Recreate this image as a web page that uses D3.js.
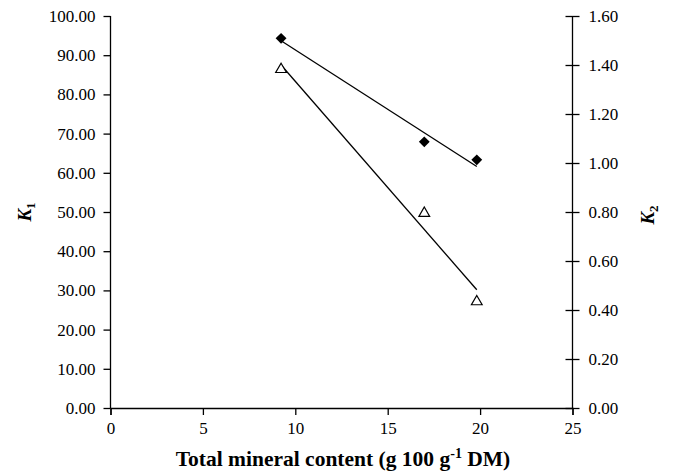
<!DOCTYPE html>
<html><head><meta charset="utf-8">
<script src="https://cdn.jsdelivr.net/npm/d3@7"></script>
<style>body{margin:0;background:#fff}svg{display:block}text{font-family:"Liberation Serif","Times New Roman",serif;fill:#000}</style>
</head><body><svg id="c" width="674" height="475"></svg>
<script>
const mineral = [9.23, 16.98, 19.82];
const k1 = [94.3, 67.9, 63.3];
const k2 = [1.382, 0.795, 0.434];
const xTicks = [0, 5, 10, 15, 20, 25];
const k1Ticks = [0,10,20,30,40,50,60,70,80,90,100];
const k2Ticks = [0,0.2,0.4,0.6,0.8,1.0,1.2,1.4,1.6];

const svg = d3.select("#c");
const L = 110.5, R = 572.5, T = 16, B = 408;
const x = d3.scaleLinear().domain([0,25]).range([L,R]);
const y1 = d3.scaleLinear().domain([0,100]).range([B,T]);
const y2 = d3.scaleLinear().domain([0,1.6]).range([B,T]);

const fs = "17px";
const gl = svg.append("g").attr("transform",`translate(${L},0)`)
  .call(d3.axisLeft(y1).tickValues(k1Ticks).tickFormat(d3.format(".2f")).tickSizeOuter(0).tickSize(7).tickPadding(8));
const gr = svg.append("g").attr("transform",`translate(${R},0)`)
  .call(d3.axisRight(y2).tickValues(k2Ticks).tickFormat(d3.format(".2f")).tickSizeOuter(0).tickSize(7).tickPadding(9));
gr.selectAll(".tick line").attr("x1",-7);
const gb = svg.append("g").attr("transform",`translate(0,${B})`)
  .call(d3.axisBottom(x).tickValues(xTicks).tickFormat(d3.format("d")).tickSizeOuter(0).tickSize(7).tickPadding(7));
[gl,gr,gb].forEach(g=>{
  g.attr("font-family",null);
  g.selectAll("text").style("font-size",fs).style("font-family",'"Liberation Serif","Times New Roman",serif').attr("fill","#000");
  g.selectAll("line,path").attr("stroke","#000").attr("stroke-width",1.3);
});
gl.select(".domain").attr("d",`M0,${T}V${B}`);
gr.select(".domain").attr("d",`M0,${T}V${B}`);

function fit(xs, ys){
  const mx=d3.mean(xs), my=d3.mean(ys);
  let sxy=0,sxx=0; xs.forEach((v,i)=>{sxy+=(v-mx)*(ys[i]-my);sxx+=(v-mx)**2;});
  const b=sxy/sxx, a=my-b*mx; return v=>a+b*v;
}
const f1=fit(mineral,k1), f2=fit(mineral,k2);
const x0=d3.min(mineral), x1=d3.max(mineral);
svg.append("line").attr("x1",x(x0)).attr("x2",x(x1)).attr("y1",y1(f1(x0))).attr("y2",y1(f1(x1))).attr("stroke","#000").attr("stroke-width",1.3);
svg.append("line").attr("x1",x(x0)).attr("x2",x(x1)).attr("y1",y2(f2(x0))).attr("y2",y2(f2(x1))).attr("stroke","#000").attr("stroke-width",1.3);

svg.selectAll(".dia").data(mineral).enter().append("path")
  .attr("d",d3.symbol(d3.symbolDiamond2,75)())
  .attr("transform",(d,i)=>`translate(${x(d)},${y1(k1[i])})`).attr("fill","#000");
svg.selectAll(".tri").data(mineral).enter().append("path")
  .attr("d",d3.symbol(d3.symbolTriangle,50)())
  .attr("transform",(d,i)=>`translate(${x(d)},${y2(k2[i])})`).attr("fill","#fff").attr("stroke","#000").attr("stroke-width",1.2);

const t = svg.append("text").attr("x",343).attr("y",466).attr("text-anchor","middle")
  .style("font-size","21.5px").style("font-weight","bold");
t.append("tspan").text("Total mineral content (g 100 g");
t.append("tspan").attr("dy",-8).style("font-size","14px").text("-1");
t.append("tspan").attr("dy",8).text(" DM)");

function kLabel(cx, cy, sub){
  const g = svg.append("text").attr("transform",`translate(${cx},${cy}) rotate(-90)`).attr("text-anchor","middle")
    .style("font-size","19px").style("font-weight","bold");
  g.append("tspan").style("font-style","italic").text("K");
  g.append("tspan").attr("dy",4).style("font-size","13px").text(sub);
}
kLabel(31, 212, "1");
kLabel(654, 215, "2");
</script></body></html>
